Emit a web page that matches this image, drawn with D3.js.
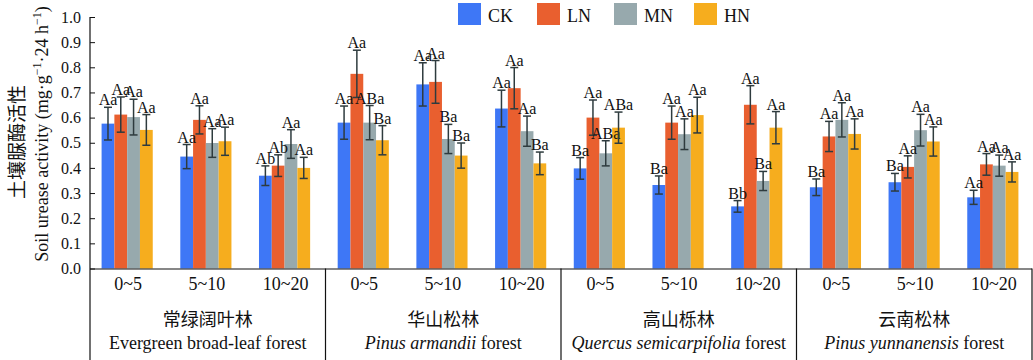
<!DOCTYPE html>
<html><head><meta charset="utf-8">
<script src="https://cdn.jsdelivr.net/npm/d3@7"></script>
<style>body{margin:0;background:#fff}svg{display:block}</style>
</head><body><svg id="c" width="1033" height="360"></svg>
<script>
const series = ["CK","LN","MN","HN"];
const colors = ["#3E77F6","#E95F2F","#97A9AD","#F6AD1E"];
const depths = ["0~5","5~10","10~20"];
const forestsCN = ["常绿阔叶林","华山松林","高山栎林","云南松林"];
const forestsEN = [
  [["Evergreen broad-leaf forest",false]],
  [["Pinus armandii",true],[" forest",false]],
  [["Quercus semicarpifolia",true],[" forest",false]],
  [["Pinus yunnanensis",true],[" forest",false]]
];
// values per category (forest x depth), order CK, LN, MN, HN
const means = [
  [0.576,0.612,0.602,0.551],[0.445,0.591,0.499,0.506],[0.369,0.409,0.495,0.400],
  [0.580,0.774,0.580,0.510],[0.732,0.742,0.515,0.449],[0.636,0.717,0.546,0.418],
  [0.398,0.600,0.458,0.560],[0.332,0.580,0.534,0.610],[0.247,0.651,0.348,0.560],
  [0.323,0.525,0.591,0.535],[0.343,0.404,0.550,0.505],[0.283,0.414,0.409,0.384]
];
const errs = [
  [0.065,0.070,0.071,0.061],[0.048,0.056,0.057,0.056],[0.039,0.043,0.057,0.042],
  [0.066,0.094,0.068,0.058],[0.086,0.085,0.058,0.050],[0.073,0.082,0.060,0.045],
  [0.043,0.070,0.050,0.062],[0.036,0.066,0.061,0.071],[0.023,0.076,0.038,0.064],
  [0.033,0.060,0.068,0.060],[0.035,0.044,0.063,0.058],[0.028,0.043,0.042,0.040]
];
const sig = [
  ["Aa","Aa","Aa","Aa"],["Aa","Aa","Aa","Aa"],["Ab","Ab","Aa","Aa"],
  ["Aa","Aa","ABa","Ba"],["Aa","Aa","Ba","Ba"],["Aa","Aa","Aa","Ba"],
  ["Ba","Aa","ABa","ABa"],["Ba","Aa","Aa","Aa"],["Bb","Aa","Ba","Aa"],
  ["Ba","Aa","Aa","Aa"],["Ba","Aa","Aa","Aa"],["Aa","Aa","Aa","Aa"]
];
const yTicks = [0,0.1,0.2,0.3,0.4,0.5,0.6,0.7,0.8,0.9,1.0];

const serif = "'Liberation Serif','Times New Roman',serif";
const cjk = "'Noto Sans CJK SC','Noto Sans CJK JP',sans-serif";
const svg = d3.select("#c");
const L = 90, R = 1032, T = 17, B = 268.5;
const cats = d3.range(12);
const x0 = d3.scaleBand().domain(cats).range([L,R]).paddingInner(0.35).paddingOuter(0.16);
const x1 = d3.scaleBand().domain(series).range([0,x0.bandwidth()]);
const y = d3.scaleLinear().domain([0,1]).range([B,T]);
const gx = d3.scaleBand().domain(d3.range(4)).range([L,R]);

// bars
const cg = svg.append("g").selectAll("g").data(cats).join("g")
  .attr("transform", c => `translate(${x0(c)-1},0)`);
series.forEach((s,i) => {
  cg.append("rect").attr("x", x1(s)).attr("width", x1.bandwidth())
    .attr("y", c => y(means[c][i])).attr("height", c => B - y(means[c][i]))
    .attr("fill", colors[i]);
});
// error bars and labels
series.forEach((s,i) => {
  const cx = x1(s) + x1.bandwidth()/2;
  const eg = cg.append("g").attr("stroke","#2E3B3E").attr("stroke-width",1.5);
  eg.append("line").attr("x1",cx).attr("x2",cx)
    .attr("y1", c => y(means[c][i]+errs[c][i])).attr("y2", c => y(means[c][i]-errs[c][i]));
  eg.append("line").attr("x1",cx-4).attr("x2",cx+4)
    .attr("y1", c => y(means[c][i]+errs[c][i])).attr("y2", c => y(means[c][i]+errs[c][i]));
  eg.append("line").attr("x1",cx-4).attr("x2",cx+4)
    .attr("y1", c => y(means[c][i]-errs[c][i])).attr("y2", c => y(means[c][i]-errs[c][i]));
  cg.append("text").attr("x",cx).attr("y", c => y(means[c][i]+errs[c][i]) - 2)
    .attr("text-anchor","middle").attr("font-family",serif).attr("font-size",16)
    .attr("fill","#111").text(c => sig[c][i]);
});

// y axis
const ya = svg.append("g").attr("transform",`translate(${L},0)`)
  .call(d3.axisLeft(y).tickValues(yTicks).tickFormat(d3.format(".1f")).tickSizeInner(-5).tickSizeOuter(0).tickPadding(9));
ya.select(".domain").remove();
ya.selectAll("text").attr("font-family",serif).attr("font-size",16).attr("fill","#111");
ya.selectAll("line").attr("stroke","#111");
svg.append("line").attr("x1",L).attr("x2",L).attr("y1",T).attr("y2",360).attr("stroke","#111").attr("stroke-width",1.2);
// bottom axis line and separators
svg.append("line").attr("x1",L).attr("x2",R).attr("y1",B+0.5).attr("y2",B+0.5).attr("stroke","#111").attr("stroke-width",1.2);
d3.range(1,5).forEach(k => {
  const xx = gx(k) !== undefined ? gx(k) : R;
  svg.append("line").attr("x1",xx).attr("x2",xx).attr("y1",B).attr("y2",360).attr("stroke","#111").attr("stroke-width",1.2);
});
// category labels
svg.append("g").selectAll("text").data(cats).join("text")
  .attr("x", c => x0(c) + x0.bandwidth()/2).attr("y",290)
  .attr("text-anchor","middle").attr("font-family",serif).attr("font-size",18).attr("fill","#111")
  .text(c => depths[c % 3]);
svg.append("g").selectAll("text").data(d3.range(4)).join("text")
  .attr("x", k => gx(k) + gx.bandwidth()/2).attr("y",326)
  .attr("text-anchor","middle").attr("font-family",cjk).attr("font-size",18).attr("fill","#111")
  .text(k => forestsCN[k]);
const en = svg.append("g").selectAll("text").data(d3.range(4)).join("text")
  .attr("x", k => gx(k) + gx.bandwidth()/2).attr("y",349)
  .attr("text-anchor","middle").attr("font-family",serif).attr("font-size",18).attr("fill","#111");
en.each(function(k){
  const t = d3.select(this);
  forestsEN[k].forEach(([s,it]) => t.append("tspan").attr("font-style", it ? "italic" : "normal").text(s));
});

// y title
const yt = svg.append("g").attr("transform","translate(0,142) rotate(-90)");
yt.append("text").attr("x",0).attr("y",24).attr("text-anchor","middle")
  .attr("font-family",cjk).attr("font-size",19).attr("fill","#111").text("土壤脲酶活性");
const et = yt.append("text").attr("x",8).attr("y",48).attr("text-anchor","middle")
  .attr("font-family",serif).attr("font-size",18).attr("fill","#111");
et.append("tspan").text("Soil urease activity (mg·g");
et.append("tspan").attr("dy",-7).attr("font-size",12).text("−1");
et.append("tspan").attr("dy",7).text("·24 h");
et.append("tspan").attr("dy",-7).attr("font-size",12).text("−1");
et.append("tspan").attr("dy",7).text(")");

// legend
const lg = svg.append("g").selectAll("g").data(series).join("g")
  .attr("transform",(d,i)=>`translate(${[458,537,614,694][i]},3)`);
lg.append("rect").attr("width",23).attr("height",22).attr("fill",(d,i)=>colors[i]);
lg.append("text").attr("x",30).attr("y",19).attr("font-family",serif).attr("font-size",18).attr("fill","#111").text(d=>d);
</script></body></html>
